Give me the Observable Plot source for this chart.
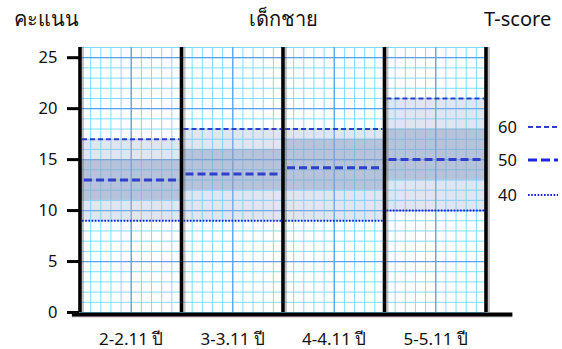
<!DOCTYPE html>
<html><head><meta charset="utf-8">
<script src="https://cdn.jsdelivr.net/npm/d3@7"></script>
<script src="https://cdn.jsdelivr.net/npm/@observablehq/plot@0.6"></script>
<style>
body{margin:0;background:#fff;font-family:"Noto Sans","Open Sans",sans-serif;color:#111}
#wrap{position:relative;width:562px;height:349px;overflow:hidden}
#wrap svg{position:absolute;left:0;top:0}
.h{position:absolute;font-size:20px;line-height:24px;height:24px;white-space:nowrap}
.lg{position:absolute;font-size:16.5px;line-height:24px;height:24px}
.ls{position:absolute}
</style></head><body><div id="wrap"></div>
<script>
// ---- data ----
const groups = ["2-2.11 ปี", "3-3.11 ปี", "4-4.11 ปี", "5-5.11 ปี"];
const t40 = [9, 9, 9, 10];
const t50 = [13, 13.6, 14.2, 15];
const t60 = [17, 18, 18, 21];
const bandLow = [11, 12, 12, 13];
const bandHigh = [15, 16, 17, 18];
const yTicks = [0, 5, 10, 15, 20, 25];
const yTitle = "คะแนน";
const mainTitle = "เด็กชาย";
const legendTitle = "T-score";
const legendLabels = ["60", "50", "40"];

const rows = groups.map((g, i) => ({g, i, t40: t40[i], t50: t50[i], t60: t60[i], lo: bandLow[i], hi: bandHigh[i]}));
const yMax = 26;
const minorY = d3.range(0, yMax + 1);
const majorY = minorY.filter(v => v % 5 === 0 && v > 0);
const minorX = d3.range(0, groups.length * 10 + 1).map(k => k / 10);
const majorX = groups.map((g, i) => i + 0.5);
const dividers = d3.range(0, groups.length + 1);

const lineColor = "#2f3fcc";
const chart = Plot.plot({
  width: 562, height: 349,
  marginLeft: 80, marginRight: 76, marginTop: 47, marginBottom: 37,
  x: {domain: [0, groups.length], axis: null},
  y: {domain: [0, yMax], axis: null},
  style: {fontFamily: "'Noto Sans','Open Sans',sans-serif", fontSize: "16px", color: "#111", background: "white"},
  marks: [
    // grid
    Plot.ruleY(minorY, {stroke: "#7fdcff", strokeWidth: 1}),
    Plot.ruleX(minorX, {y1: 0, y2: yMax, stroke: "#7fdcff", strokeWidth: 1}),
    Plot.ruleY(majorY, {stroke: "#5fa2ef", strokeWidth: 1.3}),
    Plot.ruleX(majorX, {y1: 0, y2: yMax, stroke: "#5fa2ef", strokeWidth: 1.3}),
    // bands
    Plot.rect(rows, {x1: d => d.i, x2: d => d.i + 1, y1: "t40", y2: "t60", fill: "#a4b8da", fillOpacity: 0.35}),
    Plot.rect(rows, {x1: d => d.i, x2: d => d.i + 1, y1: "lo", y2: "hi", fill: "#8498bd", fillOpacity: 0.45}),
    // T-score lines
    Plot.ruleY(rows, {y: "t60", x1: d => d.i, x2: d => d.i + 1, insetLeft: 2, insetRight: 2, stroke: lineColor, strokeWidth: 2, strokeDasharray: "5,3"}),
    Plot.ruleY(rows, {y: "t50", x1: d => d.i, x2: d => d.i + 1, insetLeft: 4, insetRight: 4, stroke: lineColor, strokeWidth: 3, strokeDasharray: "8,4"}),
    Plot.ruleY(rows, {y: "t40", x1: d => d.i, x2: d => d.i + 1, insetLeft: 2, insetRight: 2, stroke: "#1c22d6", strokeWidth: 2, strokeDasharray: "1.6,1.6"}),
    // frame shadows and frame
    Plot.ruleX(dividers, {y1: 0, y2: yMax, dx: 2.5, stroke: "#555", strokeOpacity: 0.35, strokeWidth: 2}),
    Plot.ruleX(dividers, {y1: 0, y2: yMax, dx: d => d === 0 ? -2 : 0, stroke: "black", strokeWidth: 3.6}),
    Plot.ruleY([0], {x1: -0.08, x2: groups.length + 0.26, dy: 4, stroke: "#666", strokeOpacity: 0.35, strokeWidth: 2}),
    Plot.ruleY([0], {x1: -0.08, x2: groups.length + 0.26, dy: 2, stroke: "black", strokeWidth: 4}),
    // axes
    Plot.axisY({ticks: yTicks, tickSize: 12, tickPadding: 10, strokeWidth: 3, stroke: "black", fontSize: 16.5, dx: -1}),
    Plot.text(rows, {x: d => d.i + 0.5, y: 0, dy: 27, text: "g", fontSize: 17, fill: "#111"})
  ]
});
const wrap = document.getElementById("wrap");
wrap.appendChild(chart);

function addDiv(cls, text, style) {
  const d = document.createElement("div");
  d.className = cls; d.textContent = text; Object.assign(d.style, style);
  wrap.appendChild(d);
}
addDiv("h", yTitle, {left: "14px", top: "7px"});
addDiv("h", mainTitle, {left: "283px", top: "7px", transform: "translateX(-50%)"});
addDiv("h", legendTitle, {left: "484px", top: "7px"});

const legendStyles = [
  {w: 2, dash: "5,3", c: lineColor},
  {w: 3, dash: "9,4", c: "#1c2ad6"},
  {w: 2, dash: "1.6,1.6", c: "#1c22d6"}
];
const legendY = [127, 160, 195];
legendLabels.forEach((lab, k) => {
  addDiv("lg", lab, {left: "498px", top: (legendY[k] - 12) + "px"});
  const ns = "http://www.w3.org/2000/svg";
  const s = document.createElementNS(ns, "svg");
  s.setAttribute("width", 30); s.setAttribute("height", 8);
  s.setAttribute("class", "ls");
  s.style.left = "528px"; s.style.top = (legendY[k] - 4) + "px";
  const l = document.createElementNS(ns, "line");
  l.setAttribute("x1", 0); l.setAttribute("x2", 30); l.setAttribute("y1", 4); l.setAttribute("y2", 4);
  l.setAttribute("stroke", legendStyles[k].c); l.setAttribute("stroke-width", legendStyles[k].w);
  l.setAttribute("stroke-dasharray", legendStyles[k].dash);
  s.appendChild(l);
  wrap.appendChild(s);
});
</script></body></html>
